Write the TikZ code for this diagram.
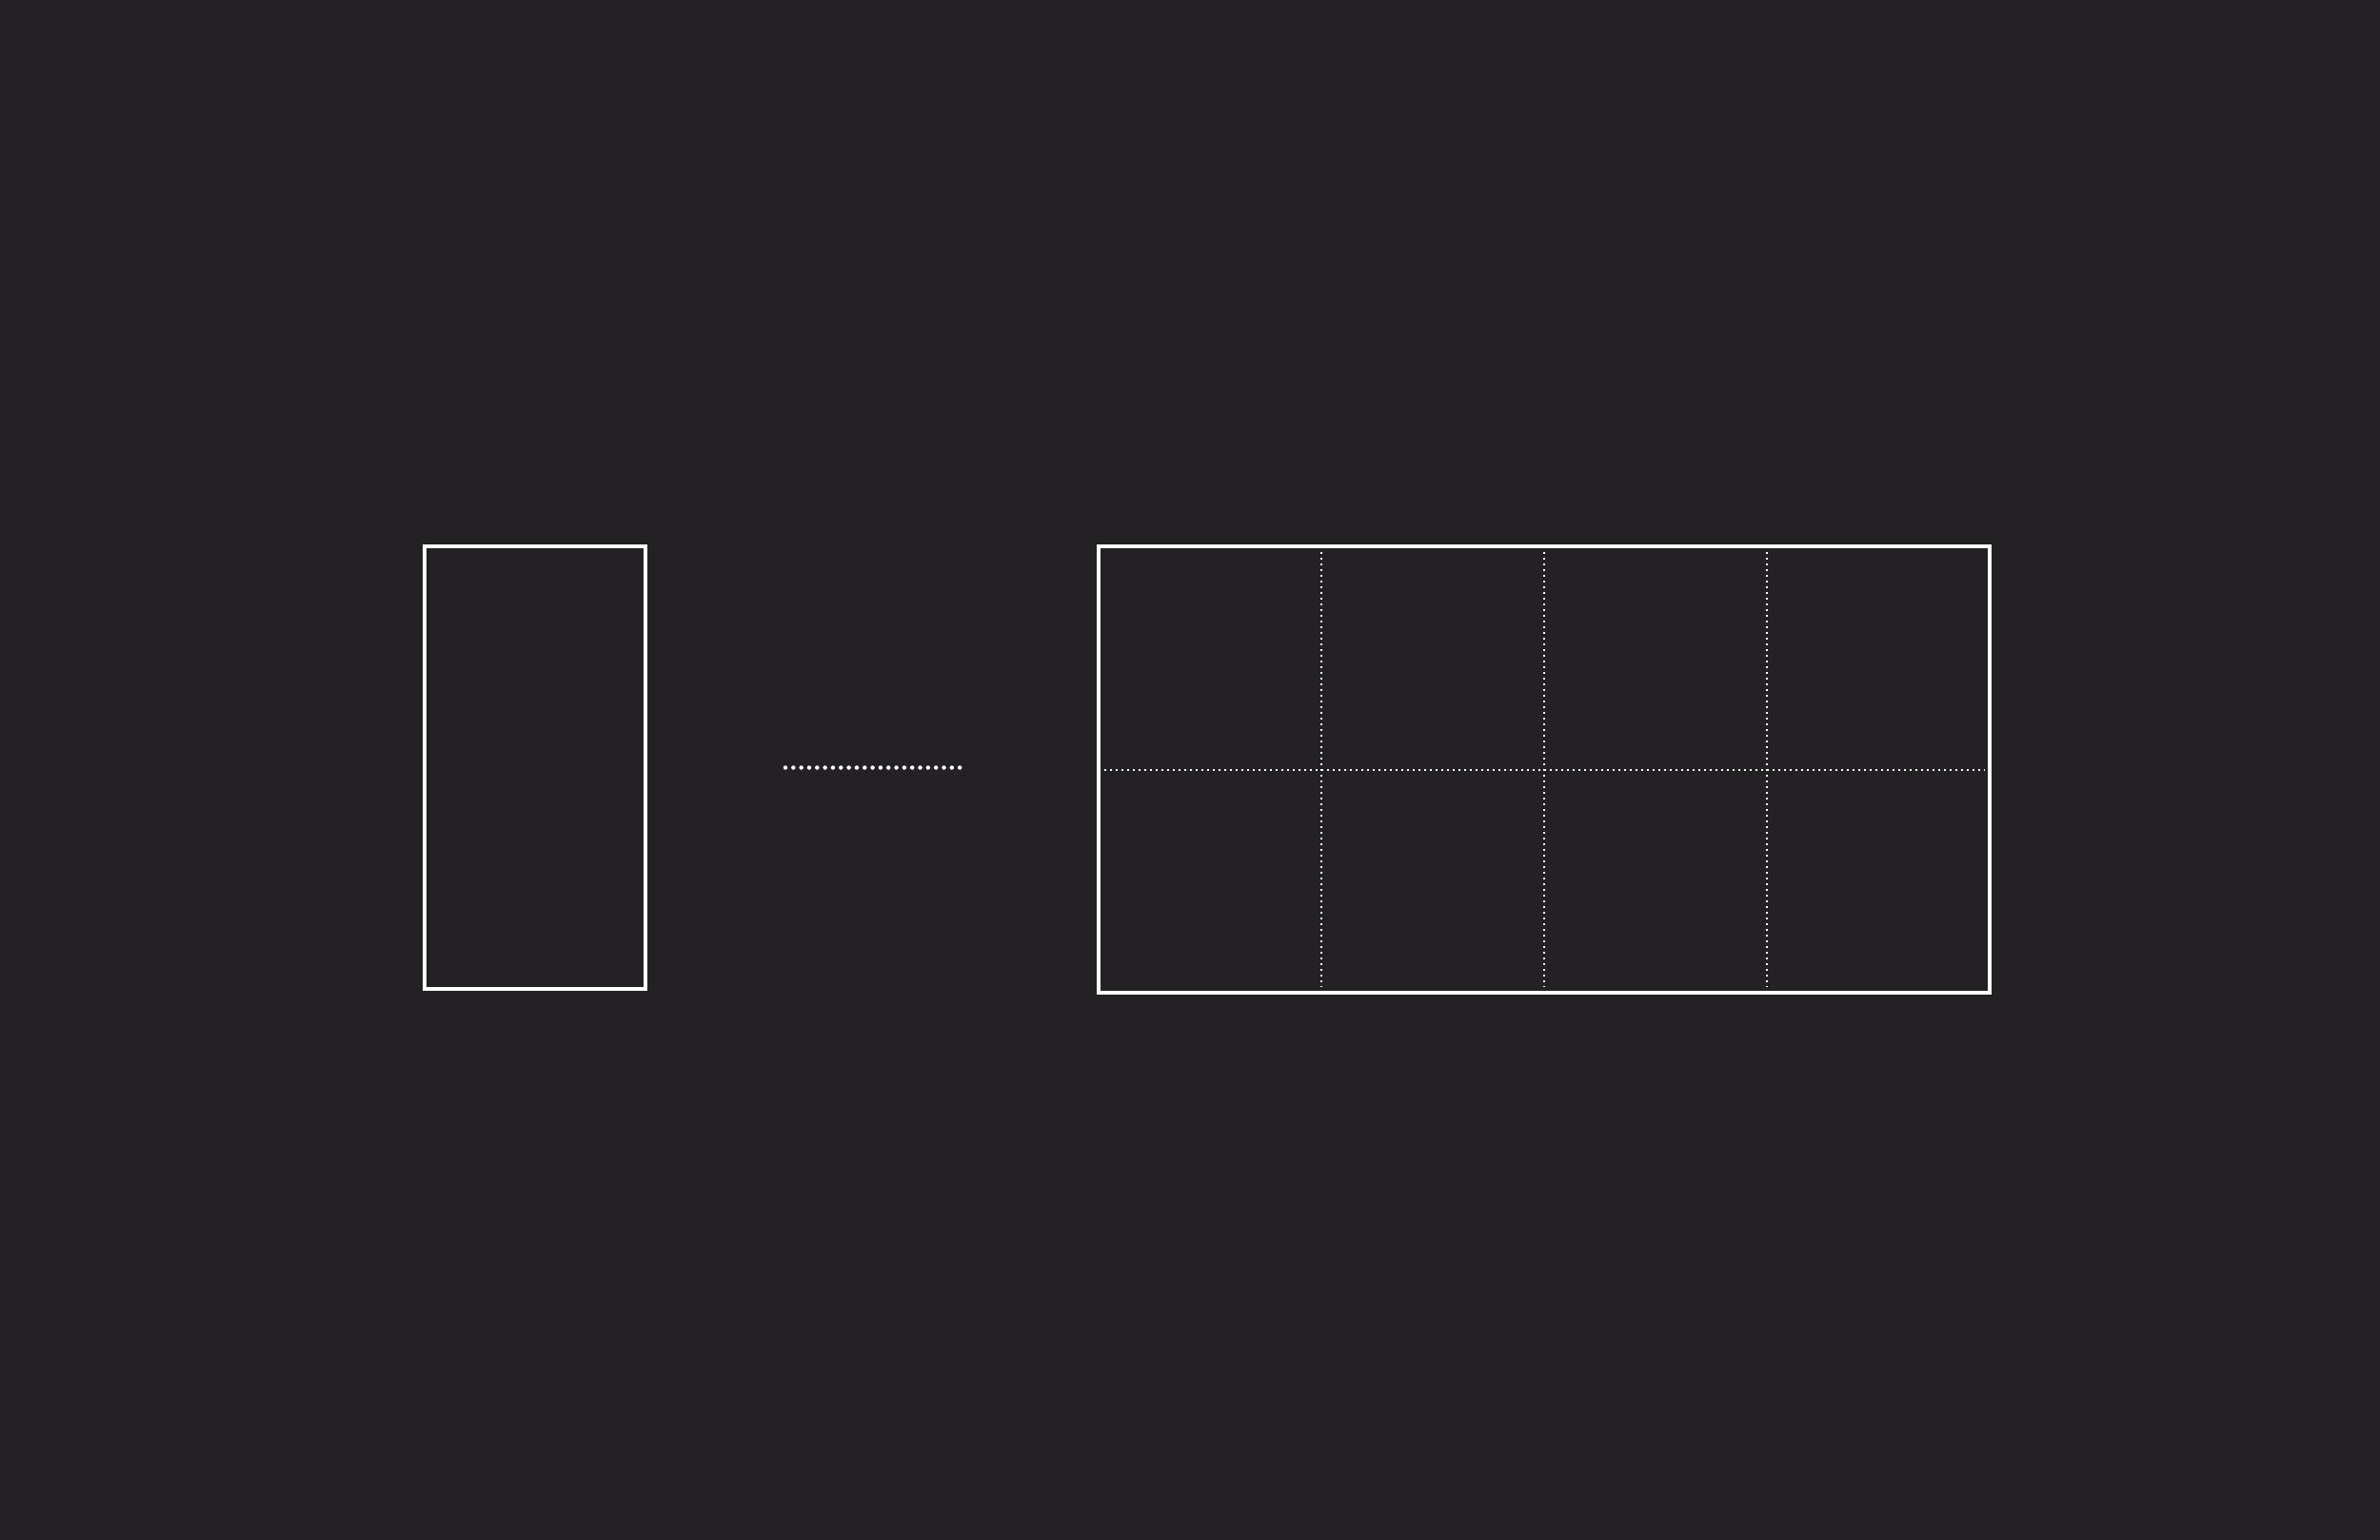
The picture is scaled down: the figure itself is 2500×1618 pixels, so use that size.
\documentclass[tikz,border=0pt]{standalone}
\usetikzlibrary{calc}
\definecolor{bgc}{RGB}{35,33,36}
\definecolor{ink}{RGB}{255,255,255}
\begin{document}
\begin{tikzpicture}[x=0.4pt,y=-0.4pt,
  panel/.style={draw=ink,inner sep=0pt,outer sep=0pt,rectangle},
  gridline/.style={draw=ink!85,line width=0.8pt,dash pattern=on 0.8pt off 1.6pt},
  linkline/.style={draw=ink,line width=1.8pt,line cap=round,dash pattern=on 0pt off 3.33pt}]
\fill[bgc] (0,0) rectangle (2500,1618);
\useasboundingbox (0,0) rectangle (2500,1618);
\node[panel,line width=1.3pt,minimum width=92.8pt,minimum height=186pt] (a) at (562,806.5) {};
\node[panel,line width=1.6pt,minimum width=374.4pt,minimum height=187.6pt] (b) at (1622,808.5) {};
% grid
\foreach \f/\n in {0.25/v1,0.5/v2,0.75/v3}{
  \coordinate (\n t) at ($(b.north west)!\f!(b.north east)$);
  \coordinate (\n b) at ($(b.south west)!\f!(b.south east)$);
  \draw[gridline] ($(\n t)+(0,6)$) -- ($(\n b)+(0,-6)$);
}
\draw[gridline] ($(b.west)+(6,0)$) -- ($(b.east)+(-5,0)$);
% connector
\coordinate (bw) at (a.east -| b.west);
\draw[linkline,shorten <=58.8pt,shorten >=57.8pt] (a.east) -- (bw);
\end{tikzpicture}
\end{document}
